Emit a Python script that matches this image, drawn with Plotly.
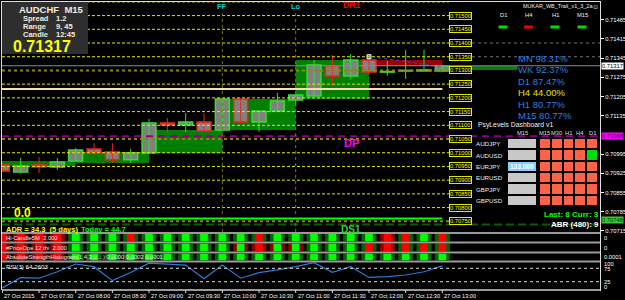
import plotly.graph_objects as go

W, H = 625, 300
FONT = "Liberation Sans, Arial, sans-serif"


def px(x):
    return x / W


def py(y):
    return 1 - y / H


# ---------------- data ----------------
bar_idx = list(range(25))
opens = [0.70955, 0.70930, 0.70955, 0.70948, 0.70970, 0.71014, 0.71003, 0.70974, 0.70999, 0.71108,
         0.71101, 0.71112, 0.71083, 0.71196, 0.71112, 0.71152, 0.71192, 0.71207, 0.71316, 0.71280,
         0.71338, 0.71294, 0.71298, 0.71298, 0.71298]
highs = [0.70963, 0.70981, 0.70984, 0.70981, 0.71017, 0.71035, 0.71035, 0.71014, 0.71123, 0.71127,
         0.71145, 0.71145, 0.71196, 0.71196, 0.71152, 0.71218, 0.71210, 0.71338, 0.71356, 0.71360,
         0.71349, 0.71334, 0.71375, 0.71375, 0.71320]
lows = [0.70930, 0.70926, 0.70926, 0.70937, 0.70970, 0.70992, 0.70963, 0.70963, 0.70999, 0.71072,
        0.71076, 0.71079, 0.71079, 0.71105, 0.71076, 0.71152, 0.71170, 0.71207, 0.71243, 0.71269,
        0.71283, 0.71280, 0.71269, 0.71294, 0.71294]
closes = [0.70933, 0.70952, 0.70948, 0.70966, 0.71010, 0.70999, 0.70974, 0.70999, 0.71108, 0.71101,
          0.71112, 0.71079, 0.71196, 0.71112, 0.71152, 0.71189, 0.71210, 0.71320, 0.71280, 0.71338,
          0.71294, 0.71296, 0.71300, 0.71302, 0.71316]

time_tick_bars = [0, 2, 4, 6, 8, 10, 12, 14, 16, 18, 20, 22, 24]
time_tick_labels = ["27 Oct 2015", "27 Oct 07:30", "27 Oct 08:00", "27 Oct 08:30", "27 Oct 09:00",
                    "27 Oct 09:30", "27 Oct 10:00", "27 Oct 10:30", "27 Oct 11:00", "27 Oct 11:30",
                    "27 Oct 12:00", "27 Oct 12:30", "27 Oct 13:00"]

price_ticks = [0.71485, 0.71415, 0.71345, 0.71275, 0.71205, 0.71135,
               0.70995, 0.70925, 0.70855, 0.70785, 0.70715]

psy_levels = [0.71550, 0.71500, 0.71450, 0.71400, 0.71350, 0.71300, 0.71250, 0.71200, 0.71150,
              0.71100, 0.71050, 0.71000, 0.70950, 0.70900, 0.70850, 0.70800, 0.70750]
psy_dotted_levels = [0.71300, 0.71050, 0.70750]
psy_extended_levels = [0.71400, 0.71350]

bid_price = 0.71317
wheat_level = 0.71232
dp_level = 0.71060
dp_text = "0.71068"
ds1_level = 0.70760
ds1_dash_level = 0.70738
ds1_text = "0.70748"

zone_start = [-0.5, 4.0, 8.0, 11.6, 16.0]
zone_end = [4.0, 8.0, 12.0, 16.0, 20.0]
zone_high = [0.70970, 0.71003, 0.71083, 0.71196, 0.71338]
zone_low = [0.70952, 0.70963, 0.70999, 0.71083, 0.71196]
sell_zone_start, sell_zone_end = 19.7, 24.0
sell_zone_high, sell_zone_low = 0.71338, 0.71316
cur_zone_start, cur_zone_end = 23.9, 28.1
cur_zone_high, cur_zone_low = 0.71316, 0.71302

proj_x = [20.5, 21.5, 22.5, 23.5, 24.0]
proj_y = [0.71345, 0.71338, 0.71327, 0.71316, 0.71312]

session_bars = [12, 16]
session_names = ["FF", "Lo"]

rsi = [2, 40, 38, 62, 91, 81, 29, 59, 94, 91, 87, 36, 87, 38, 59, 69, 81, 96, 60, 81, 41, 44, 50, 62, 84]
rsi_levels = [75, 25]

strip1 = "RRRRGGGaGGGGGGaGGGGGGRaGa"
strip2 = "RRRRGGGGGGGGGbRbbGGGaRaaa"
strip3 = "RRRRGGGGGGGGGGGGGGGGGGGGG"
strip_texts = ["Hi-Candle5M\u00a0\u00a02.000", "#PriceOpe 12 thi\u00a0\u00a02.000",
               "AbsoluteStrengthHistogram(1,4,3,0,...) 0.0000 0.0002 0.0001"]
strip_axis_text = ["0", "0", "0.0001"]

strength_tf = ["MN", "WK", "D1", "H4", "H1", "M15"]
strength_pct = [98.31, 92.37, 87.47, 44.00, 80.77, 80.77]

trend_tf = ["D1", "H4", "H1", "M15"]
trend_dir = [1, -1, 1, 1]

dash_pairs = ["AUDJPY", "AUDUSD", "EURJPY", "EURUSD", "GBPJPY", "GBPUSD"]
dash_tf = ["M15", "M30", "H1", "H4", "D1"]
dash_state = [[0, 0, 0, 0, 0],
              [0, 0, 0, 0, 1],
              [0, 0, 0, 0, 0],
              [0, 0, 0, 0, 0],
              [0, 0, 0, 0, 0],
              [0, 0, 0, 0, 0]]
dash_m15_flag = [[0], [0], [1], [0], [0], [0]]
dash_m15_text = ["", "", "133.000", "", "", ""]

# ---------------- figure ----------------
X0, X1 = -0.02, 32.6
P_TOP, P_BOT = 0.715495, 0.70711
BULL, BEAR = "#33DD33", "#EE2222"
AXF = 5.8

fig = go.Figure()

# candle wicks
for up, col in ((True, BULL), (False, BEAR)):
    xs, ys = [], []
    for i, o, h, l, c in zip(bar_idx, opens, highs, lows, closes):
        if (c >= o) == up:
            xs += [i, i, None]
            ys += [l, h, None]
    fig.add_trace(go.Scatter(x=xs, y=ys, mode="lines", line=dict(color=col, width=1),
                             hoverinfo="skip", xaxis="x", yaxis="y"))

# candle bodies
fig.add_trace(go.Bar(
    x=bar_idx,
    y=[max(abs(c - o), 0.000012) for o, c in zip(opens, closes)],
    base=[min(o, c) for o, c in zip(opens, closes)],
    width=0.76,
    marker=dict(color="#808080",
                line=dict(color=[BULL if c >= o else BEAR for o, c in zip(opens, closes)], width=1.5)),
    hoverinfo="skip", xaxis="x", yaxis="y"))

# projection dotted line
fig.add_trace(go.Scatter(x=proj_x, y=proj_y, mode="lines", line=dict(color="#3344FF", width=1, dash="dot"),
                         hoverinfo="skip", xaxis="x", yaxis="y"))
fig.add_trace(go.Scatter(x=[proj_x[0] - 0.5], y=[proj_y[0] + 0.00005], mode="markers",
                         marker=dict(color="#3366FF", size=4, symbol="square", line=dict(color="white", width=1)),
                         hoverinfo="skip", xaxis="x", yaxis="y"))

# indicator strips
cmap_outer = {"G": "#006400", "R": "#8B0000", "a": "#006400", "b": "#8B0000"}
cmap_inner = {"G": "#00FF00", "R": "#FF0000", "a": "#FF0000", "b": "#00FF00"}
for strip, ax in ((strip1, "y2"), (strip2, "y3"), (strip3, "y4")):
    fig.add_trace(go.Bar(x=bar_idx, y=[1] * len(strip), base=0, width=0.82,
                         marker=dict(color=[cmap_outer[s] for s in strip], line_width=0),
                         hoverinfo="skip", xaxis="x", yaxis=ax))
    fig.add_trace(go.Bar(x=bar_idx, y=[1] * len(strip), base=0, width=0.42,
                         marker=dict(color=[cmap_inner[s] for s in strip], line_width=0),
                         hoverinfo="skip", xaxis="x", yaxis=ax))

# RSI
fig.add_trace(go.Scatter(x=bar_idx, y=rsi, mode="lines", line=dict(color="#2A7BD5", width=1.2),
                         hoverinfo="skip", xaxis="x", yaxis="y5"))

# dashboard tiles
fig.add_trace(go.Heatmap(z=dash_state, x=list(range(len(dash_tf))), y=list(range(len(dash_pairs))),
                         colorscale=[[0, "#FF6347"], [1, "#00E000"]], zmin=0, zmax=1, showscale=False,
                         xgap=2, ygap=2, hoverinfo="skip", xaxis="x2", yaxis="y6"))
fig.add_trace(go.Heatmap(z=dash_m15_flag, x=[0], y=list(range(len(dash_pairs))),
                         colorscale=[[0, "#C8C8C8"], [1, "#87CEFA"]], zmin=0, zmax=1, showscale=False,
                         ygap=2, hoverinfo="skip", xaxis="x3", yaxis="y6"))

# ---------------- shapes ----------------
shapes = []
for x0, x1, hi, lo in zip(zone_start, zone_end, zone_high, zone_low):
    shapes.append(dict(type="rect", xref="x", yref="y", x0=x0, x1=x1, y0=lo, y1=hi,
                       fillcolor="#007F00", line_width=0, layer="below"))
shapes.append(dict(type="rect", xref="x", yref="y", x0=sell_zone_start, x1=sell_zone_end,
                   y0=sell_zone_low, y1=sell_zone_high, fillcolor="#990000", line_width=0, layer="below"))
shapes.append(dict(type="rect", xref="x", yref="y", x0=cur_zone_start, x1=cur_zone_end,
                   y0=cur_zone_low, y1=cur_zone_high, fillcolor="#0A7A0A", line_width=0, layer="below"))

BOX_L, BOX_R = 449, 472
for lv in psy_levels:
    if lv in psy_dotted_levels:
        ln = dict(color="#8A8A00", width=2, dash="dot")
    else:
        ln = dict(color="#E6E600", width=1, dash="3px,2px")
    shapes.append(dict(type="line", xref="paper", yref="y", x0=px(2), x1=px(BOX_L), y0=lv, y1=lv, line=ln))
for lv in psy_extended_levels:
    shapes.append(dict(type="line", xref="paper", yref="y", x0=px(BOX_R), x1=px(600), y0=lv, y1=lv,
                       line=dict(color="#707070", width=1, dash="dot")))

shapes.append(dict(type="line", xref="x", yref="y", x0=X0, x1=X1, y0=bid_price, y1=bid_price,
                   line=dict(color="#7F8FA6", width=1)))
shapes.append(dict(type="line", xref="x", yref="y", x0=X0, x1=24, y0=wheat_level, y1=wheat_level,
                   line=dict(color="#F5DEB3", width=2)))
shapes.append(dict(type="line", xref="x", yref="y", x0=X0, x1=X1, y0=dp_level, y1=dp_level,
                   line=dict(color="#8B008B", width=2, dash="7px,5px")))
shapes.append(dict(type="line", xref="x", yref="y", x0=X0, x1=24, y0=ds1_level, y1=ds1_level,
                   line=dict(color="#00FF00", width=2)))
shapes.append(dict(type="line", xref="x", yref="y", x0=X0, x1=X1, y0=ds1_dash_level, y1=ds1_dash_level,
                   line=dict(color="#0B5A0B", width=2, dash="8px,4px")))
for b in session_bars:
    shapes.append(dict(type="line", xref="x", yref="y", x0=b, x1=b, y0=P_BOT, y1=0.71520,
                       line=dict(color="#7A7A00", width=1, dash="dot")))

for lv in rsi_levels:
    shapes.append(dict(type="line", xref="x", yref="y5", x0=X0, x1=X1, y0=lv, y1=lv,
                       line=dict(color="#DDDDDD", width=1, dash="dot")))

# panel separators & frame
for yy in (233, 242.5, 252.5, 261.5, 290):
    shapes.append(dict(type="line", xref="paper", yref="paper", x0=px(2), x1=px(600), y0=py(yy), y1=py(yy),
                       line=dict(color="#9A9A9A", width=2)))
shapes.append(dict(type="line", xref="paper", yref="paper", x0=px(1.5), x1=px(1.5), y0=py(290), y1=py(1),
                   line=dict(color="#DDDDDD", width=1)))
shapes.append(dict(type="line", xref="paper", yref="paper", x0=px(1), x1=px(600.5), y0=py(1.5), y1=py(1.5),
                   line=dict(color="#DDDDDD", width=1)))
shapes.append(dict(type="line", xref="paper", yref="paper", x0=px(600.5), x1=px(600.5), y0=py(291), y1=py(1),
                   line=dict(color="#DDDDDD", width=1)))
for b in time_tick_bars:
    shapes.append(dict(type="line", xref="x", yref="paper", x0=b, x1=b, y0=py(290), y1=py(293),
                       line=dict(color="#DDDDDD", width=1)))

# info box
shapes.append(dict(type="rect", xref="paper", yref="paper", x0=px(2), x1=px(88), y0=py(54), y1=py(2),
                   fillcolor="#2E2E2E", line_width=0))

# trend dashes
trend_x = [503, 528.5, 555, 582]
for xc, d in zip(trend_x, trend_dir):
    shapes.append(dict(type="rect", xref="paper", yref="paper", x0=px(xc - 4.5), x1=px(xc + 4.5),
                       y0=py(28.5), y1=py(25.5), fillcolor="#00E000" if d > 0 else "#EE0000", line_width=0))

# ---------------- annotations ----------------
def A(x, y, text, size=7, color="white", bold=False, xanchor="left", yanchor="middle",
      xref="paper", yref="paper", **kw):
    if xref == "paper":
        x = px(x)
    if yref == "paper":
        y = py(y)
    if bold:
        text = "<b>" + text + "</b>"
    d = dict(x=x, y=y, xref=xref, yref=yref, text=text, showarrow=False, xanchor=xanchor,
             yanchor=yanchor, font=dict(size=size, color=color, family=FONT), borderpad=0)
    d.update(kw)
    return d


ann = []
# psy level boxes
for lv in psy_levels:
    ann.append(A((BOX_L + BOX_R) / 2, lv, f"{lv:.5f}", size=5.8, color="#FFFF00", xanchor="center",
                 yref="y", bordercolor="#E6E600", borderwidth=1, bgcolor="black"))
# right axis price boxes
ann.append(A(601, bid_price, f"{bid_price:.5f}", size=AXF, color="black", yref="y", bgcolor="white"))
ann.append(A(601, dp_level, dp_text, size=AXF, color="#3A003A", yref="y", bgcolor="#FF00FF"))
ann.append(A(601, ds1_level - 0.00005, ds1_text, size=AXF, color="#003300", yref="y", bgcolor="#33CC33"))

# strip / rsi axis labels
for t, yy in zip(strip_axis_text, (238, 248, 257)):
    ann.append(A(603, yy, t, size=AXF))
for t, yy in zip(["100", "75", "25", "0"], (263.5, 268.5, 281.5, 287)):
    ann.append(A(603, yy, t, size=AXF))

# x labels
for b, t in zip(time_tick_bars, time_tick_labels):
    ann.append(A(b, 295.5, t, size=5.6, xref="x", xshift=1))

# info box text
ann.append(A(18, 10, "AUDCHF\u00a0\u00a0M15", size=9.5, color="#F2EBDD", bold=True))
for lab, val, yy in (("Spread", "1.2", 18.3), ("Range", "9, 45", 26.7), ("Candle", "12:45", 34.3)):
    ann.append(A(22, yy, lab, size=7.5, color="#F2EBDD", bold=True))
    ann.append(A(55, yy, val, size=7.5, color="#F2EBDD", bold=True))
ann.append(A(12, 46.5, f"{bid_price:.5f}", size=16, color="#FFFF00", bold=True))

ann.append(A(13, 212.5, "0.0", size=12, color="#FFFF00", bold=True))
ann.append(A(5, 229, "ADR = 34.3\u00a0\u00a0(5 days)", size=7.5, color="#FFFF00", bold=True))
ann.append(A(80, 229, "Today = 44.7", size=7.5, color="#00FF00", bold=True))

# pivot labels
ann.append(A(351, 143.5, "DP", size=11, color="#FF00FF", bold=True, xanchor="center"))
ann.append(A(351, 229, "DS1", size=10, color="#33CC33", bold=True, xanchor="center"))
ann.append(A(351, 4.5, "DR1", size=8.5, color="#FF0000", bold=True, xanchor="center"))
for b, n in zip(session_bars, session_names):
    ann.append(A(b, 6, n, size=7.5, color="#00CCCC", bold=True, xanchor="center", xref="x"))

# top-right trend panel
ann.append(A(522, 6, "MUKAR_WB_Trail_v1_3_2a", size=5.5, color="#EEEEEE"))
ann.append(A(595.5, 6, "\u263a", size=7, color="#EEEEEE", xanchor="center"))
for xc, t in zip(trend_x, trend_tf):
    ann.append(A(xc, 15, t, size=5.8, color="#EEEEEE", xanchor="center"))

# strength percentages
for i, (tf, pc) in enumerate(zip(strength_tf, strength_pct)):
    col = "#E8E000" if tf == "H4" else "#2A80E0"
    ann.append(A(517, 58 + i * 11.5, f"{tf} {pc:.2f}%", size=9.5, color=col))

# dashboard
ann.append(A(477, 124.5, "PsyLevels Dashboard v1", size=6.8, color="#F0F0F0"))
ann.append(A(522, 133, "M15", size=5.8, color="#DDDDDD", xanchor="center"))
for j, tf in enumerate(dash_tf):
    ann.append(A(j, 133, tf, size=5.8, color="#DDDDDD", xanchor="center", xref="x2"))
for r, (pair, txt) in enumerate(zip(dash_pairs, dash_m15_text)):
    ann.append(A(475, 0, pair, size=6.2, color="#EEEEEE", yref="y6", yanchor="middle") | dict(y=r))
    if txt:
        ann.append(dict(x=0, y=r, xref="x3", yref="y6", text="<b>" + txt + "</b>", showarrow=False,
                        font=dict(size=6.5, color="white", family=FONT)))
ann.append(A(600, 214, "Last: 8 Curr: 3", size=8, color="#00FF00", bold=True, xanchor="right"))
ann.append(A(600, 224, "ABR (480): 9", size=8, color="white", bold=True, xanchor="right"))

# strip texts and rsi label
for t, yy in zip(strip_texts, (238, 247.5, 257)):
    ann.append(A(5, yy, t, size=5.8, color="#F0F0F0"))
ann.append(A(5, 266, "RSI(3) 64.2603", size=6.2, color="#F0F0F0"))

# ---------------- layout ----------------
hidden = dict(visible=False, showgrid=False, zeroline=False, fixedrange=True)
fig.update_layout(
    template="none",
    width=W, height=H,
    margin=dict(l=0, r=0, t=0, b=0),
    paper_bgcolor="black", plot_bgcolor="rgba(0,0,0,0)",
    showlegend=False, hovermode=False, barmode="overlay",
    font=dict(family=FONT, color="white"),
    xaxis=dict(domain=[px(2), px(600)], range=[X0, X1], anchor="y5", **hidden),
    yaxis=dict(domain=[py(232), py(2)], range=[P_BOT, P_TOP], side="right", anchor="x",
               tickvals=price_ticks, ticktext=[f"{v:.5f}" for v in price_ticks],
               tickfont=dict(size=AXF, color="white", family=FONT), ticks="outside", ticklen=3,
               tickcolor="white", showgrid=False, zeroline=False, showline=False, automargin=False,
               fixedrange=True),
    yaxis2=dict(domain=[py(241.5), py(234)], range=[0, 1], anchor="x", **hidden),
    yaxis3=dict(domain=[py(251.5), py(243.5)], range=[0, 1], anchor="x", **hidden),
    yaxis4=dict(domain=[py(260.5), py(253.5)], range=[0, 1], anchor="x", **hidden),
    yaxis5=dict(domain=[py(290), py(262)], range=[-6, 98.5], anchor="x", **hidden),
    xaxis2=dict(domain=[px(539), px(598)], range=[-0.5, 4.5], anchor="y6", **hidden),
    xaxis3=dict(domain=[px(508), px(536)], range=[-0.5, 0.5], anchor="y6", **hidden),
    yaxis6=dict(domain=[py(206), py(138)], range=[5.5, -0.5], anchor="x2", **hidden),
    shapes=shapes,
    annotations=ann,
)

fig.write_html("out.html", config={"displayModeBar": False, "staticPlot": True})
